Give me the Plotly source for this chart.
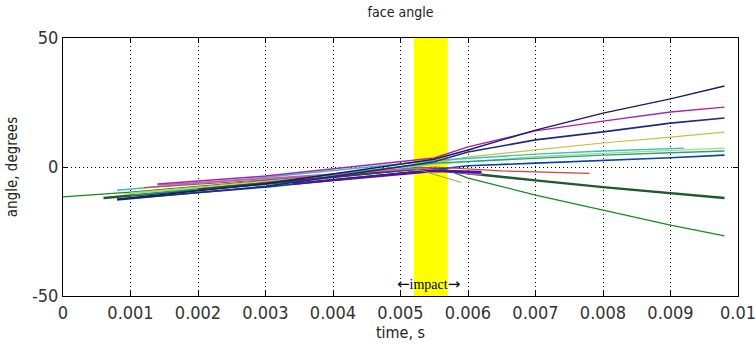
import plotly.graph_objects as go

# ---- data ----
x_ticks = [0, 0.001, 0.002, 0.003, 0.004, 0.005, 0.006, 0.007, 0.008, 0.009, 0.01]
x_tick_labels = ["0", "0.001", "0.002", "0.003", "0.004", "0.005", "0.006", "0.007", "0.008", "0.009", "0.01"]
y_ticks = [-50, 0, 50]
y_tick_labels = ["-50", "0", "50"]
impact_start = 0.0052
impact_end = 0.0057
impact_label_x = 0.00542
impact_label_y = -45.5

t_green = [0, 0.001, 0.003, 0.0053, 0.0057, 0.006, 0.007, 0.008, 0.009, 0.0098]
a_green = [-11.6, -9.7, -5.2, 0.0, -1.2, -4.3, -10.9, -16.7, -22.5, -26.7]

t_darkgreen = [0.0006, 0.003, 0.0053, 0.006, 0.007, 0.008, 0.009, 0.0098]
a_darkgreen = [-12.0, -6.5, -0.5, -2.5, -5.2, -7.8, -10.0, -12.0]

t_navy = [0.0008, 0.003, 0.0055, 0.006, 0.007, 0.008, 0.009, 0.0098]
a_navy = [-12.5, -6.5, 3.0, 6.6, 14.3, 20.9, 26.4, 31.4]

t_magenta = [0.0014, 0.003, 0.0055, 0.006, 0.007, 0.008, 0.009, 0.0098]
a_magenta = [-6.6, -3.5, 3.5, 7.8, 14.0, 17.8, 21.3, 23.2]

t_darkblue = [0.0008, 0.003, 0.0055, 0.006, 0.007, 0.008, 0.009, 0.0098]
a_darkblue = [-12.8, -7.5, 2.0, 5.8, 10.5, 13.6, 17.0, 19.0]

t_olive = [0.001, 0.003, 0.0055, 0.006, 0.007, 0.008, 0.009, 0.0098]
a_olive = [-10.0, -5.5, 1.5, 3.9, 6.6, 9.3, 11.6, 13.5]

t_lightgreen = [0.0009, 0.003, 0.0055, 0.007, 0.008, 0.009, 0.0098]
a_lightgreen = [-10.5, -6.0, 1.0, 4.0, 5.3, 6.5, 7.3]

t_teal = [0.0010, 0.003, 0.0055, 0.007, 0.008, 0.009, 0.0098]
a_teal = [-11.0, -6.0, 1.5, 3.5, 4.6, 5.5, 6.2]

t_cyan = [0.0008, 0.003, 0.0055, 0.007, 0.008, 0.0092]
a_cyan = [-9.0, -4.0, 2.5, 5.0, 6.2, 7.3]

t_blue = [0.0008, 0.003, 0.0055, 0.006, 0.007, 0.008, 0.009, 0.0098]
a_blue = [-12.5, -7.8, -1.0, 0.5, 1.5, 2.5, 3.6, 4.6]

t_red = [0.0012, 0.003, 0.0055, 0.0065, 0.0078]
a_red = [-8.0, -5.0, 0.0, -1.5, -2.5]

t_purple = [0.0034, 0.0045, 0.0055, 0.0062]
a_purple = [-6.5, -4.0, -1.5, -2.0]

t_pink = [0.0014, 0.003, 0.0053, 0.0062]
a_pink = [-7.0, -4.5, -0.5, -3.0]

t_olivethin = [0.0052, 0.0059]
a_olivethin = [-0.5, -6.0]

t_gray = [0.002, 0.0035, 0.0053, 0.006]
a_gray = [-8.5, -5.0, -0.8, -2.0]

series = [
    (t_green, a_green, "#1a8a1a", 1.2),
    (t_darkgreen, a_darkgreen, "#1f5a2a", 2.4),
    (t_olive, a_olive, "#c8c040", 1.2),
    (t_lightgreen, a_lightgreen, "#a8d870", 1.4),
    (t_teal, a_teal, "#20a090", 1.4),
    (t_cyan, a_cyan, "#30c0c8", 1.4),
    (t_blue, a_blue, "#1040a0", 1.6),
    (t_red, a_red, "#d04040", 1.2),
    (t_gray, a_gray, "#404040", 1.6),
    (t_pink, a_pink, "#c060c0", 1.6),
    (t_purple, a_purple, "#5010a0", 2.6),
    (t_olivethin, a_olivethin, "#a0a030", 1.0),
    (t_darkblue, a_darkblue, "#202a80", 1.6),
    (t_magenta, a_magenta, "#b020a8", 1.4),
    (t_navy, a_navy, "#1a1a60", 1.4),
]

FONT = "DejaVu Sans Condensed, Liberation Sans, Arial, sans-serif"

fig = go.Figure()
for t, a, c, w in series:
    fig.add_trace(go.Scatter(x=t, y=a, mode="lines", line=dict(color=c, width=w),
                             showlegend=False, hoverinfo="skip"))

fig.add_shape(type="rect", xref="x", yref="paper", x0=impact_start, x1=impact_end,
              y0=0, y1=1, fillcolor="#ffff00", line=dict(width=0), layer="below")

arrow_style = "font-family:'DejaVu Sans';font-size:15px"
fig.add_annotation(x=impact_label_x, y=impact_label_y, xref="x", yref="y",
                   text=f"<span style=\"{arrow_style}\">\u2190</span>impact"
                        f"<span style=\"{arrow_style}\">\u2192</span>",
                   showarrow=False,
                   font=dict(family="Liberation Serif, DejaVu Serif, serif", size=14, color="black"))

axis_common = dict(showline=True, linecolor="black", linewidth=1, mirror="ticks",
                   ticks="inside", ticklen=5, tickcolor="black", showgrid=True,
                   gridcolor="black", griddash="1px,3px", gridwidth=1, zeroline=False,
                   automargin=False, ticklabeloverflow="allow",
                   tickfont=dict(family=FONT, size=18, color="#333"))

fig.update_layout(
    width=756, height=346,
    margin=dict(l=63, r=18, t=38, b=50),
    paper_bgcolor="white", plot_bgcolor="white",
    title=dict(text="face angle", x=0.5, xref="paper", y=0.965, yanchor="middle",
               font=dict(family=FONT, size=14, color="#222")),
    xaxis=dict(range=[0, 0.01], tickvals=x_ticks, ticktext=x_tick_labels,
               title=dict(text="time, s", standoff=0,
                          font=dict(family=FONT, size=16, color="#222")),
               **axis_common),
    yaxis=dict(range=[-50, 50], tickvals=y_ticks, ticktext=y_tick_labels,
               title=dict(text="angle, degrees", standoff=10,
                          font=dict(family=FONT, size=15, color="#222")),
               **axis_common),
)

fig.write_html("out.html", config={"displayModeBar": False},
               post_script="document.body.style.margin='0';document.body.style.padding='0';")
